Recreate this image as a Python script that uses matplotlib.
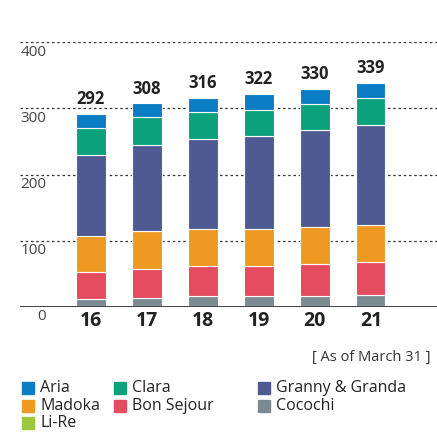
import numpy as np
import matplotlib.pyplot as plt
from matplotlib.patches import Rectangle

plt.rcParams['font.family'] = ['Open Sans', 'DejaVu Sans']

# data (number of homes per brand, as of March 31)
years = ['16', '17', '18', '19', '20', '21']
li_re = [1, 1, 1, 1, 1, 1]
cocochi = [11, 12, 15, 15, 15, 16]
bon_sejour = [40, 44, 45, 45, 48, 50]
madoka = [55, 58, 57, 57, 57, 56]
granny = [122, 130, 135, 140, 146, 152]
clara = [42, 42, 41, 40, 40, 40]
aria = [21, 21, 22, 24, 23, 24]
totals = [292, 308, 316, 322, 330, 339]
yticks = [0, 100, 200, 300, 400]

series = [
    ('Li-Re', li_re, '#9bc83c'),
    ('Cocochi', cocochi, '#7b8a91'),
    ('Bon Sejour', bon_sejour, '#e54c5f'),
    ('Madoka', madoka, '#ee9a22'),
    ('Granny & Granda', granny, '#4f5a92'),
    ('Clara', clara, '#0da07d'),
    ('Aria', aria, '#0a7dc5'),
]

W, H = 437, 432
fig = plt.figure(figsize=(W / 100, H / 100), dpi=100)
# axes box in pixels: left 20, right 437, y=0 at 306.7, y=400 at 42.3
ax = fig.add_axes([20 / W, (H - 306.7) / H, 417 / W, (306.7 - 42.3) / H])

x = np.arange(len(years))
bottom = np.zeros(len(years))
for name, vals, col in series:
    ax.bar(x, vals, width=0.52, bottom=bottom, color=col,
           edgecolor='white', linewidth=0.8, zorder=3)
    bottom += np.array(vals)

ax.set_xlim(-1.268, 6.18)
ax.set_ylim(0, 400)

# dotted grid lines
for v in yticks[1:]:
    ax.axhline(v, color='#333333', linewidth=0.9, linestyle=(0, (2, 2.2)), zorder=1)
ax.axhline(0, color='#333333', linewidth=1.3, zorder=4)

for s in ax.spines.values():
    s.set_visible(False)
ax.set_xticks([])
ax.set_yticks([])

# y labels sit just under their grid line
for v in yticks:
    ax.text(-0.8, v - 4, str(v), ha='right', va='top', fontsize=11,
            color='#444444')

for xi, yr in zip(x, years):
    ax.text(xi, -6, yr, ha='center', va='top', fontsize=14,
            fontweight='bold', color='#222222')

for xi, t, top in zip(x, totals, bottom):
    ax.annotate(str(t), (xi, top), xytext=(0, 4), textcoords='offset points',
                ha='center', va='bottom', fontsize=12, fontweight='bold',
                color='#222222', zorder=5)

fig.text(431 / W, 1 - 357 / H, '[ As of March 31 ]', ha='right', va='center',
         fontsize=10.5, color='#333333')

# legend laid out by hand in 3 columns
legend_items = [
    ('Aria', '#0a7dc5', 22, 388), ('Clara', '#0da07d', 114, 388),
    ('Granny & Granda', '#4f5a92', 258, 388),
    ('Madoka', '#ee9a22', 22, 406), ('Bon Sejour', '#e54c5f', 114, 406),
    ('Cocochi', '#7b8a91', 258, 406),
    ('Li-Re', '#9bc83c', 22, 423),
]
for name, col, px, py in legend_items:
    fig.patches.append(Rectangle((px / W, 1 - (py + 6) / H), 12 / W, 12 / H,
                                 transform=fig.transFigure, color=col))
    fig.text((px + 18) / W, 1 - py / H, name, ha='left', va='center',
             fontsize=11.5, color='#222222')

fig.savefig('out.png', dpi=100)
